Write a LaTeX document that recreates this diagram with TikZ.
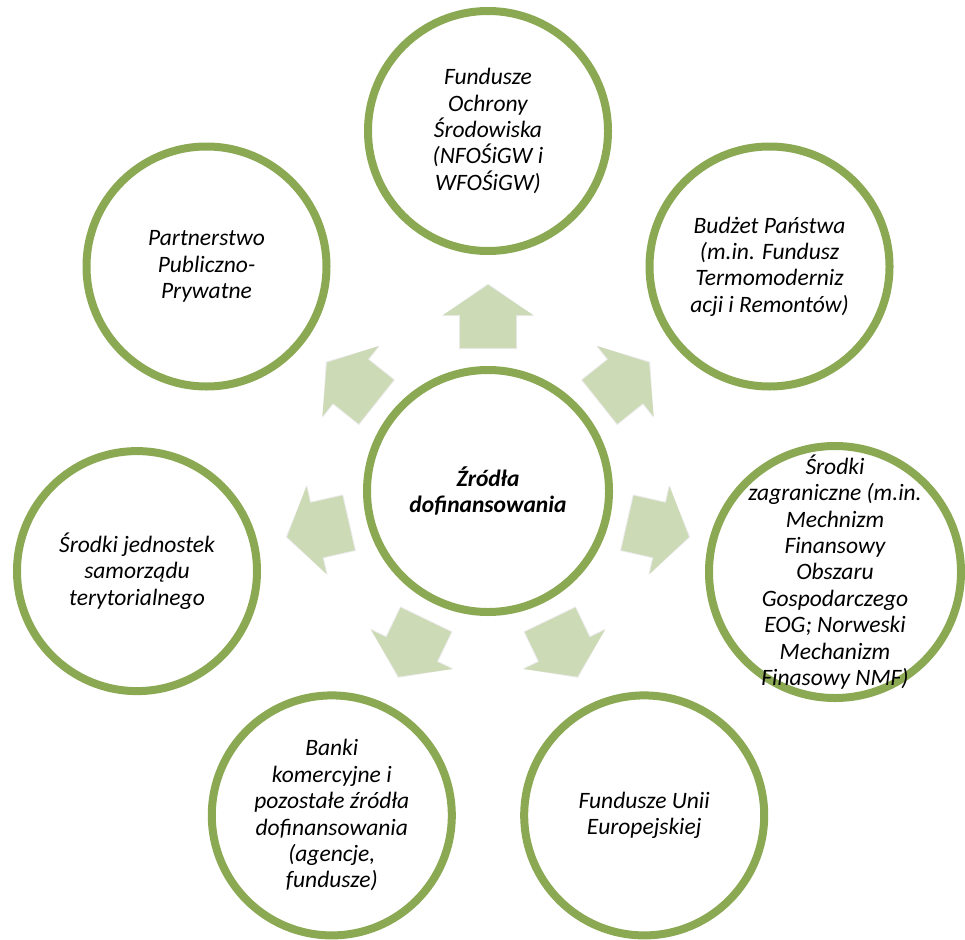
\documentclass[tikz,border=0pt]{standalone}
\usepackage{fontspec}
\setmainfont{Carlito}
\usetikzlibrary{calc,shadows}
\definecolor{ringgreen}{RGB}{139,168,83}
\definecolor{arrowgreen}{RGB}{204,218,182}
\begin{document}
\begin{tikzpicture}[x=1pt,y=-1pt,
  ring/.style={circle, draw=ringgreen, line width=8pt, fill=white,
    minimum size=240pt, inner sep=0pt,
    drop shadow={shadow xshift=0.5pt, shadow yshift=-2.5pt, opacity=0.12, fill=black}},
  ringtext/.style={align=center, inner sep=0pt,
    font=\fontsize{23.5}{26.4}\selectfont\itshape},
  arrowshape/.style={fill=arrowgreen, draw=none}]
\useasboundingbox (0,0) rectangle (965,939);
\coordinate (C) at (488,491);

% arrows
\foreach \a in {90, 38.571, -12.857, -64.286, -115.714, -167.143, 141.429}{
  \begin{scope}[shift={(C)}, rotate=\a]
    \fill[black, opacity=0.08] (142,-29) -- (175,-29) -- (175,-46) -- (207.5,0)
      -- (175,46) -- (175,29) -- (142,29) -- cycle;
    \fill[arrowshape] (143,-28) -- (176,-28) -- (176,-45) -- (206,0)
      -- (176,45) -- (176,28) -- (143,28) -- cycle;
  \end{scope}
}

% center
\node[ring, minimum size=242pt] (center) at (C) {};
\node[ringtext, font=\fontsize{23.5}{26.4}\selectfont\bfseries\itshape] (centert) at (center) {Źródła\\dofinansowania};

% outer rings
\node[ring] (r0) at (488,131) {};
\node[ringtext] (r0t) at (r0) {Fundusze\\Ochrony\\Środowiska\\(NFOŚiGW i\\WFOŚiGW)};

\node[ring] (r1) at (769.5,266.5) {};
\node[ringtext] (r1t) at (r1) {Budżet Państwa\\(m.in. Fundusz\\Termomoderniz\\acji i Remontów)};

\node[ring, minimum size=252pt] (r2) at (835,572) {};
\node[ringtext] (r2t) at (r2) {Środki\\zagraniczne (m.in.\\Mechnizm\\Finansowy\\Obszaru\\Gospodarczego\\EOG; Norweski\\Mechanizm\\Finasowy NMF)};

\node[ring] (r3) at (644.2,815.4) {};
\node[ringtext] (r3t) at (r3) {Fundusze Unii\\Europejskiej};

\node[ring] (r4) at (331.8,815.4) {};
\node[ringtext] (r4t) at (r4) {Banki\\komercyjne i\\pozostałe źródła\\dofinansowania\\(agencje,\\fundusze)};

\node[ring] (r5) at (137,571.1) {};
\node[ringtext] (r5t) at (r5) {Środki jednostek\\samorządu\\terytorialnego};

\node[ring] (r6) at (206.5,266.5) {};
\node[ringtext] (r6t) at (r6) {Partnerstwo\\Publiczno-\\Prywatne};
\end{tikzpicture}
\end{document}
